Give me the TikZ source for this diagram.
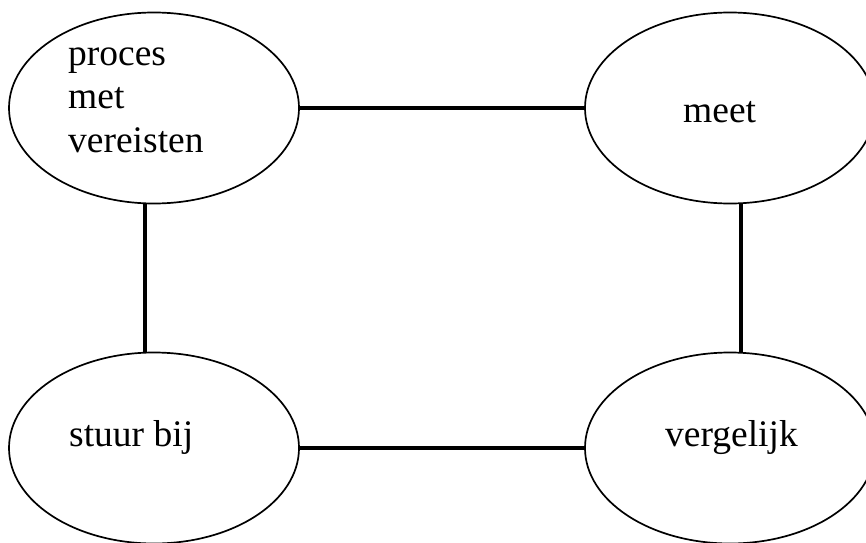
\documentclass[tikz,border=0pt]{standalone}
\usepackage{fontspec}
\setmainfont{Liberation Serif}
\usetikzlibrary{shapes.geometric}
\begin{document}
\begin{tikzpicture}[x=1pt,y=1pt,
  oval/.style={ellipse,draw,line width=1.7pt,minimum width=290pt,minimum height=191pt,inner sep=0pt},
  conn/.style={line width=4pt},
  lbl/.style={font=\fontsize{37.5}{43}\selectfont,inner sep=0pt,align=left}]
\clip (0,0) rectangle (866,542);
\fill[white] (0,0) rectangle (866,542);
\node[oval] (tl) at (154,434) {};
\node[oval] (tr) at (730,434) {};
\node[oval] (bl) at (154,94) {};
\node[oval] (br) at (730,94) {};
\node[lbl,anchor=base west] (tlt) at (68,476) {proces};
\node[lbl,anchor=base west] (tlt2) at (68,433) {met};
\node[lbl,anchor=base west] (tlt3) at (68,390) {vereisten};
\node[lbl,anchor=base west] (trt) at (683,420) {meet};
\node[lbl,anchor=base west] (blt) at (69,96) {stuur bij};
\node[lbl,anchor=base west] (brt) at (665,96) {vergelijk};
\draw[conn] (tl.east) -- (tr.west);
\draw[conn] (bl.east) -- (br.west);
\draw[conn] ([xshift=-9pt]tl.south) -- ([xshift=-9pt]bl.north);
\draw[conn] ([xshift=11pt]tr.south) -- ([xshift=11pt]br.north);
\end{tikzpicture}
\end{document}
